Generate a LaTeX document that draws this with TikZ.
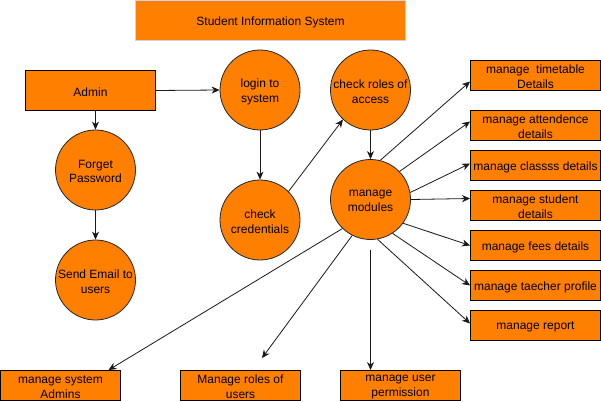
\documentclass[tikz,border=0pt]{standalone}
\usepackage{fontspec}
\setmainfont{Liberation Sans}
\usetikzlibrary{arrows.meta}
\definecolor{org}{HTML}{FF8000}
\definecolor{lav}{HTML}{D5D0E6}
\begin{document}
\begin{tikzpicture}[x=1pt,y=-1pt,
  txt/.style={font=\fontsize{12}{14.8}\selectfont,align=center,text=black,inner sep=0pt,yshift=-1.5pt},
  proc/.style={circle,draw=black!85,line width=0.8pt,fill=org,minimum size=80pt,inner sep=0pt},
  ent/.style={rectangle,draw=black,line width=0.9pt,fill=org,inner sep=0pt},
  conn/.style={draw=black!90,line width=0.8pt,-{Stealth[length=8pt,width=7pt,inset=2.5pt]}}]
\useasboundingbox (0,0) rectangle (601,401);
% title
\node[rectangle,draw=lav,line width=0.9pt,fill=org,minimum width=270pt,minimum height=40pt,inner sep=0pt,label={[txt]center:Student Information System}] (ti) at (270.5,20.5) {};
% left column
\node[ent,minimum width=130pt,minimum height=40pt,label={[txt]center:Admin}] (ad) at (90.5,90.5) {};
\node[proc,label={[txt]center:Forget\\Password}] (fp) at (95.5,170) {};
\node[proc,label={[txt]center:Send Email to\\users}] (se) at (95.5,280) {};
% middle
\node[proc,label={[txt]center:login to\\system}] (lg) at (260,90) {};
\node[proc,label={[txt]center:check\\credentials}] (cr) at (260,220) {};
\node[proc,label={[txt]center:check roles of\\access}] (ro) at (370.5,90) {};
\node[proc,label={[txt]center:manage\\modules}] (mm) at (370.5,199.5) {};
% right boxes
\tikzset{rbox/.style={ent,minimum width=130pt,minimum height=30pt}}
\node[rbox,label={[txt]center:manage~ timetable\\Details}] (tt) at (535.5,75.5) {};
\node[rbox,label={[txt]center:manage attendence\\details}] (at) at (535.5,125.5) {};
\node[rbox,label={[txt]center:manage classss details}] (cl) at (535.5,165.5) {};
\node[rbox,label={[txt]center:manage student\\details}] (st) at (535.5,205.5) {};
\node[rbox,label={[txt]center:manage fees details}] (fe) at (535.5,245.5) {};
\node[rbox,label={[txt]center:manage taecher profile}] (te) at (535.5,285.5) {};
\node[rbox,label={[txt]center:manage report}] (re) at (535.5,325.5) {};
% bottom boxes
\tikzset{bbox/.style={ent,minimum width=120pt,minimum height=30pt}}
\node[bbox,label={[txt]center:manage system\\Admins}] (sa) at (60.5,385.5) {};
\node[bbox,label={[txt]center:Manage roles of\\users}] (mr) at (240.5,385.5) {};
\node[bbox,label={[txt]center:manage user\\permission}] (up) at (400.5,385.5) {};
% connectors
\draw[conn] (ad.east) -- (lg.west);
\draw[conn] (ad.south -| fp.north) -- (fp.north);
\draw[conn] (fp.south) -- (se.north);
\draw[conn] (lg.south) -- (cr.north);
\draw[conn] (cr.45) -- (ro.-133);
\draw[conn] (ro.south) -- (mm.north);
\draw[conn] (mm.76) -- ([yshift=-6pt]tt.west);
\draw[conn] (mm.44) -- ([yshift=4pt]at.west);
\draw[conn] (mm.10) -- ([yshift=2pt]cl.west);
\draw[conn] (mm.0) -- ([yshift=7pt]st.west);
\draw[conn] (mm.-36) -- (fe.west);
\draw[conn] (mm.-57) -- (te.west);
\draw[conn] (mm.-80) -- ([yshift=2pt]re.west);
\draw[conn] (mm.-134) -- ([xshift=48pt]sa.north);
\coordinate (mrend) at ([xshift=21.5pt,yshift=12pt]mr.north);
\draw[conn] (mm.-117) -- (mrend);
\coordinate (mmbot) at ([yshift=-10pt]mm.south);
\draw[conn] (mmbot) -- ([xshift=-30pt]up.north);
\end{tikzpicture}
\end{document}
